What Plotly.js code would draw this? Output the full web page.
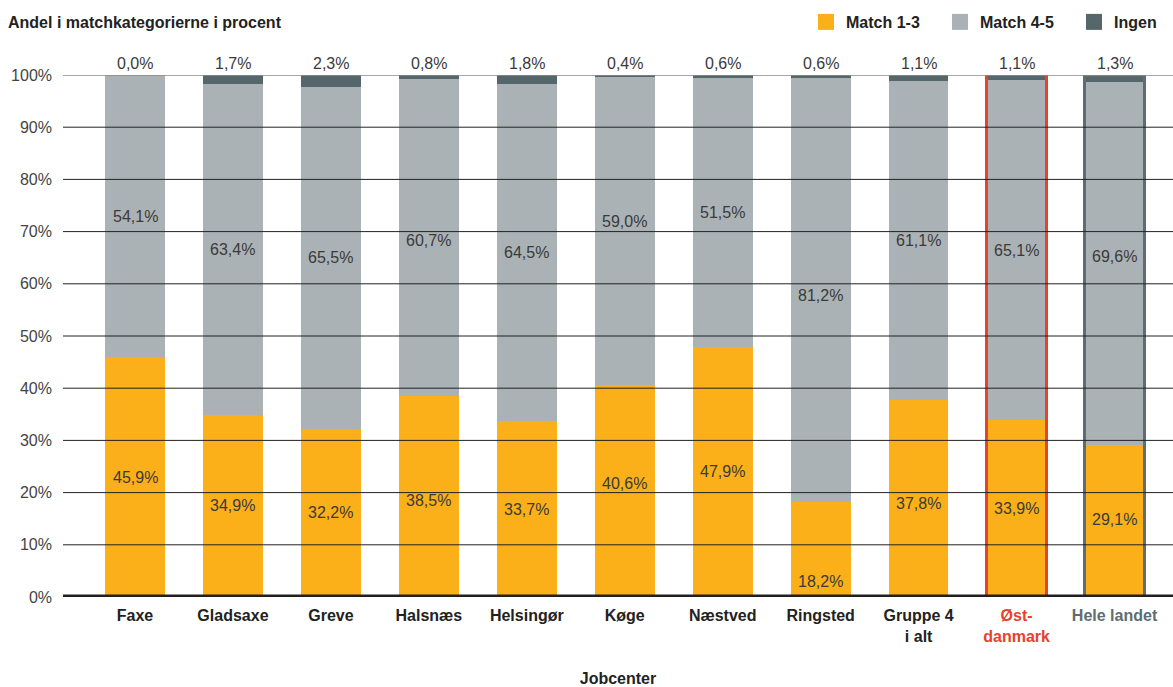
<!DOCTYPE html>
<html>
<head>
<meta charset="utf-8">
<script src="https://cdn.plot.ly/plotly-3.0.1.min.js"></script>
<style>html,body{margin:0;padding:0;background:#fff;}#chart{width:1173px;height:687px;}</style>
</head>
<body>
<div id="chart"></div>
<script>
// ---- data ----
const categories = ['Faxe', 'Gladsaxe', 'Greve', 'Halsnæs', 'Helsingør', 'Køge', 'Næstved', 'Ringsted', 'Gruppe 4 i alt', 'Østdanmark', 'Hele landet'];
const tickLabels = ['Faxe', 'Gladsaxe', 'Greve', 'Halsnæs', 'Helsingør', 'Køge', 'Næstved', 'Ringsted', 'Gruppe 4<br>i alt', 'Øst-<br>danmark', 'Hele landet'];
const match13 = [45.9, 34.9, 32.2, 38.5, 33.7, 40.6, 47.9, 18.2, 37.8, 33.9, 29.1];
const match45 = [54.1, 63.4, 65.5, 60.7, 64.5, 59.0, 51.5, 81.2, 61.1, 65.1, 69.6];
const ingen = [0.0, 1.7, 2.3, 0.8, 1.8, 0.4, 0.6, 0.6, 1.1, 1.1, 1.3];
const seriesNames = ['Match 1-3', 'Match 4-5', 'Ingen'];
const yTicks = [0, 10, 20, 30, 40, 50, 60, 70, 80, 90, 100];

// ---- styles ----
const colors = ['#FBAF19', '#ABB2B5', '#55676A'];
const highlight = {'Østdanmark': '#E8412C', 'Hele landet': '#5D6D71'};
// small pixel nudges of value labels (label placement style, as in the original)
const nudge13 = {'Halsnæs': -4, 'Køge': 8, 'Gruppe 4 i alt': -5, 'Hele landet': 2};
const nudge45 = {'Halsnæs': -3, 'Køge': 10, 'Ringsted': -5, 'Hele landet': 7};
const sans = "'Liberation Sans', Arial, Helvetica, sans-serif";
const barW = 0.61;

const fmt = v => v.toFixed(1).replace('.', ',') + '%';

const values = [match13, match45, ingen];
const traces = values.map((vals, i) => ({
  type: 'bar', x: categories, y: vals, name: seriesNames[i],
  marker: {color: colors[i], line: {width: 0}}, width: barW,
  showlegend: false, hoverinfo: 'skip'
}));

// outline overlay for highlighted bars
const totals = categories.map((c, i) => match13[i] + match45[i] + ingen[i]);
traces.push({
  type: 'bar', x: categories, y: totals, xaxis: 'x2', yaxis: 'y2', width: barW,
  marker: {color: 'rgba(0,0,0,0)', line: {width: 3, color: categories.map(c => highlight[c] || 'rgba(0,0,0,0)')}},
  showlegend: false, hoverinfo: 'skip'
});

// legend entries
seriesNames.forEach((n, i) => traces.push({
  type: 'scatter', mode: 'markers', x: [null], y: [null], name: n,
  marker: {symbol: 'square', size: 16, color: colors[i]}, showlegend: true, hoverinfo: 'skip'
}));

const ticktext = tickLabels.map((t, i) => {
  const col = highlight[categories[i]];
  if (!col) return t;
  return t.split('<br>').map(s => `<span style="color:${col}">${s}</span>`).join('<br>');
});

const labelFont = {family: sans, size: 16, color: '#3a3a3a'};
const annotations = [];
categories.forEach((c, i) => {
  const low = match13[i] < 20;
  annotations.push({
    x: c, y: low ? 0 : match13[i] / 2, yanchor: low ? 'bottom' : 'middle',
    yshift: low ? 5 : (nudge13[c] || 0),
    text: fmt(match13[i]), showarrow: false, font: labelFont
  });
  annotations.push({
    x: c, y: match13[i] + match45[i] / 2, yanchor: 'middle', yshift: nudge45[c] || 0,
    text: fmt(match45[i]), showarrow: false, font: labelFont
  });
  annotations.push({
    x: c, y: 100, yanchor: 'bottom', yshift: 1,
    text: fmt(ingen[i]), showarrow: false, font: labelFont
  });
});

const shapes = yTicks.filter(v => v > 0).map(v => ({
  type: 'line', xref: 'paper', x0: 0, x1: 1, yref: 'y', y0: v, y1: v, layer: 'above',
  line: {color: v === 100 ? '#8a8a8a' : '#222', width: v === 100 ? 1.5 : 1}
}));
shapes.push({
  type: 'line', xref: 'paper', x0: 0, x1: 1, yref: 'y', y0: 0, y1: 0, layer: 'above',
  line: {color: '#231F20', width: 5}
});

const layout = {
  width: 1173, height: 687,
  margin: {l: 63, r: 0, t: 75, b: 90, autoexpand: false},
  paper_bgcolor: '#fff', plot_bgcolor: '#fff',
  barmode: 'stack', bargap: 0,
  title: {
    text: '<b>Andel i matchkategorierne i procent</b>', xref: 'container', yref: 'container',
    x: 8 / 1173, xanchor: 'left', y: 1 - 22 / 687, yanchor: 'middle',
    font: {family: sans, size: 16, color: '#222'}
  },
  xaxis: {
    type: 'category', range: [-0.735, 10.597], tickvals: categories, ticktext: ticktext,
    showgrid: false, zeroline: false, showline: false, ticks: '',
    tickfont: {family: sans, size: 16, color: '#222', weight: 'bold'},
    ticklabelstandoff: 7,
    title: {text: '<b>Jobcenter</b>', font: {family: sans, size: 16, color: '#222'}, standoff: 31}
  },
  yaxis: {
    range: [0, 100], tickvals: yTicks, ticktext: yTicks.map(v => v + '%'),
    showgrid: false, zeroline: false, showline: false, ticks: '', ticklabelstandoff: 10,
    tickfont: {family: sans, size: 16, color: '#444'}
  },
  xaxis2: {overlaying: 'x', matches: 'x', visible: false},
  yaxis2: {overlaying: 'y', matches: 'y', visible: false},
  legend: {
    orientation: 'h', traceorder: 'normal',
    x: (806 - 63) / 1110, xanchor: 'left', y: 1 + (75 - 22) / 522, yanchor: 'middle',
    font: {family: sans, size: 16, color: '#222', weight: 'bold'}, entrywidth: 89,
    bgcolor: 'rgba(0,0,0,0)'
  },
  annotations: annotations,
  shapes: shapes,
  showlegend: true
};

Plotly.newPlot('chart', traces, layout, {displayModeBar: false, staticPlot: true});
</script>
</body>
</html>
